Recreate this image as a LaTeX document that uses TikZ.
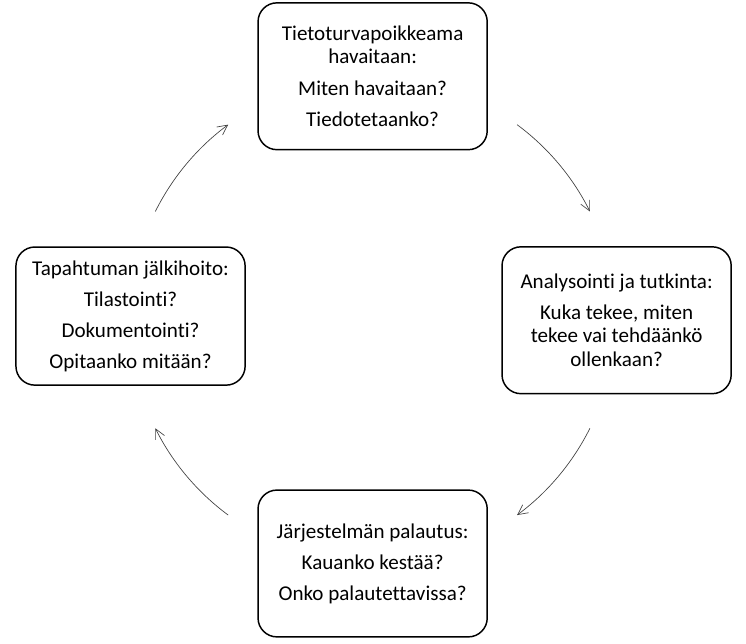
\documentclass[tikz,border=0pt]{standalone}
\usepackage{fontspec}
\setmainfont{Carlito}[Ligatures=CommonOff]
\usepackage{tikz}
\usetikzlibrary{arrows.meta}
\tikzset{
  phase/.style = {draw, line width=1.1pt, rounded corners=0.5cm, align=center,
                  minimum width=6.04cm, minimum height=3.87cm, inner sep=2pt,
                  font=\fontsize{15.8}{17.25}\selectfont},
  ar/.style    = {-{Straight Barb[length=2.6mm,width=2.6mm]}, line width=0.5pt,
                  draw=black!75},
}

\begin{document}
\begin{tikzpicture}
\useasboundingbox (0,0) rectangle (19.66,16.97);

\node[phase] (detect) at (9.82,14.96)
     {Tietoturvapoikkeama\\havaitaan:\\[6pt]
      Miten havaitaan?\\[6pt]
      Tiedotetaanko?};

\node[phase] (analyse) at (16.25,8.53)
     {Analysointi ja tutkinta:\\[6pt]
      Kuka tekee, miten\\tekee vai tehdäänkö\\ollenkaan?};

\node[phase] (restore) at (9.82,2.12)
     {Järjestelmän palautus:\\[6pt]
      Kauanko kestää?\\[6pt]
      Onko palautettavissa?};

\node[phase, minimum height=3.64cm] (followup) at (3.44,8.64)
     {Tapahtuman jälkihoito:\\[6pt]
      Tilastointi?\\[6pt]
      Dokumentointi?\\[6pt]
      Opitaanko mitään?};

% the cycle runs clockwise round the middle
\coordinate (hub) at (9.82,8.54);
\foreach \a in {53.5,-26.5,-126.5,153.5}
  \draw[ar] (hub) ++(\a:6.40) arc[start angle=\a, delta angle=-27, radius=6.40];
\end{tikzpicture}
\end{document}
